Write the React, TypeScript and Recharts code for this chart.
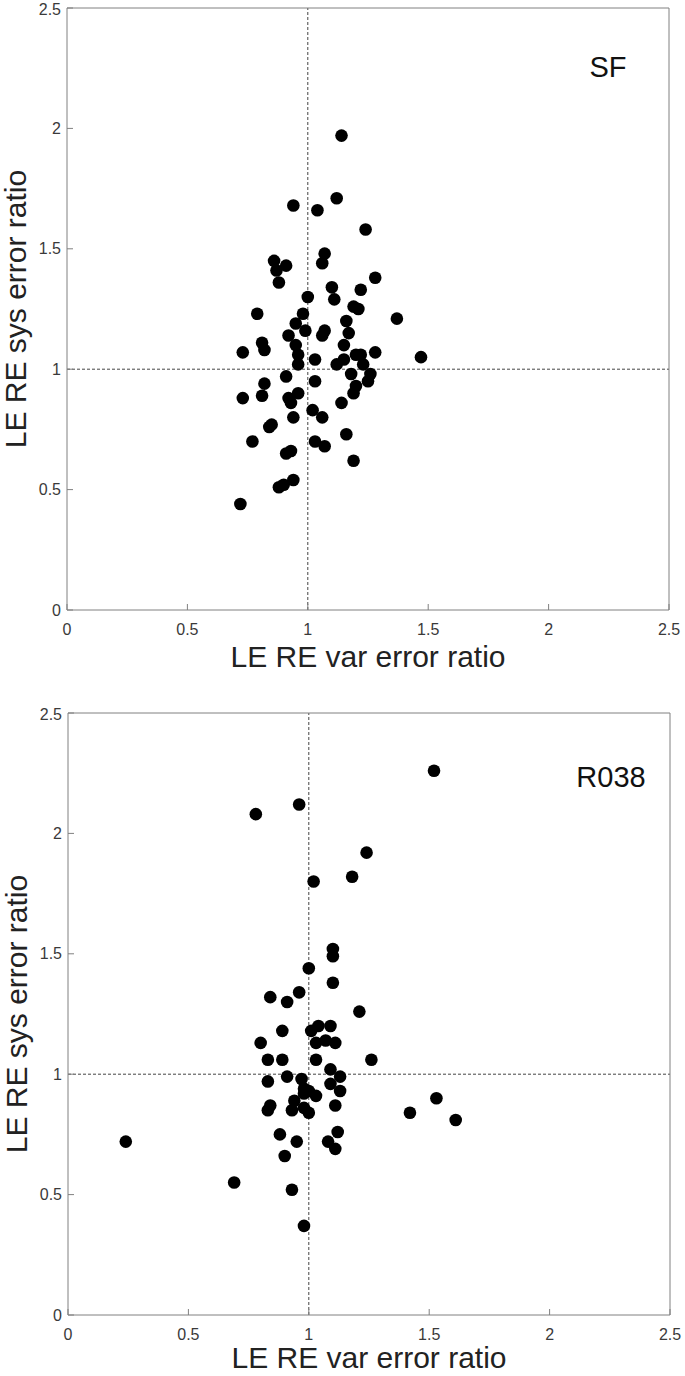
import { ScatterChart, Scatter, XAxis, YAxis, ReferenceLine } from 'recharts';

const TICKS = [0, 0.5, 1, 1.5, 2, 2.5];

// SF panel
const sfVar = [
  1.14, 1.12, 0.94, 1.04, 1.24, 1.07, 1.06, 0.86, 0.91, 0.87, 0.88, 1.28, 1.1, 1.22, 1.0, 1.11, 1.19, 1.21, 0.79,
  1.37, 0.98, 0.95, 1.16, 0.99, 1.07, 1.06, 0.92, 1.17, 0.81, 0.82, 0.73, 0.95, 1.15, 0.96, 1.03, 0.96, 1.12, 1.15,
  1.2, 1.22, 1.23, 1.28, 1.47, 0.91, 1.18, 1.26, 1.25, 1.03, 0.82, 1.2, 0.73, 0.81, 0.92, 0.93, 0.96, 1.19, 1.14,
  1.02, 1.06, 0.94, 0.84, 0.85, 0.77, 1.16, 1.03, 1.07, 0.91, 0.93, 1.19, 0.94, 0.88, 0.9, 0.72,
];
const sfSys = [
  1.97, 1.71, 1.68, 1.66, 1.58, 1.48, 1.44, 1.45, 1.43, 1.41, 1.36, 1.38, 1.34, 1.33, 1.3, 1.29, 1.26, 1.25, 1.23,
  1.21, 1.23, 1.19, 1.2, 1.16, 1.16, 1.14, 1.14, 1.15, 1.11, 1.08, 1.07, 1.1, 1.1, 1.06, 1.04, 1.02, 1.02, 1.04,
  1.06, 1.06, 1.02, 1.07, 1.05, 0.97, 0.98, 0.98, 0.95, 0.95, 0.94, 0.93, 0.88, 0.89, 0.88, 0.86, 0.9, 0.9, 0.86,
  0.83, 0.8, 0.8, 0.76, 0.77, 0.7, 0.73, 0.7, 0.68, 0.65, 0.66, 0.62, 0.54, 0.51, 0.52, 0.44,
];

// R038 panel
const r038Var = [
  1.52, 0.96, 0.78, 1.24, 1.18, 1.02, 1.1, 1.1, 1.0, 1.1, 0.96, 0.84, 0.91, 1.21, 0.89, 1.01, 1.04, 1.09, 0.8, 1.03,
  1.07, 1.11, 0.83, 0.89, 1.03, 1.26, 0.91, 1.09, 1.13, 0.83, 0.97, 1.09, 1.13, 0.98, 1.0, 1.03, 0.98, 0.94, 0.84,
  0.83, 0.93, 0.98, 1.0, 1.11, 1.53, 1.42, 1.61, 0.88, 0.95, 1.12, 1.08, 1.11, 0.9, 0.69, 0.93, 0.98, 0.24,
];
const r038Sys = [
  2.26, 2.12, 2.08, 1.92, 1.82, 1.8, 1.52, 1.49, 1.44, 1.38, 1.34, 1.32, 1.3, 1.26, 1.18, 1.18, 1.2, 1.2, 1.13, 1.13,
  1.14, 1.13, 1.06, 1.06, 1.06, 1.06, 0.99, 1.02, 0.99, 0.97, 0.98, 0.96, 0.93, 0.94, 0.93, 0.91, 0.92, 0.89, 0.87,
  0.85, 0.85, 0.86, 0.84, 0.87, 0.9, 0.84, 0.81, 0.75, 0.72, 0.76, 0.72, 0.69, 0.66, 0.55, 0.52, 0.37, 0.72,
];

const toPoints = (xs: number[], ys: number[]) => xs.map((x, i) => ({ x, y: ys[i] }));

const FONT = '"Liberation Sans", Arial, Helvetica, sans-serif';
const BOX = '#808080';
const tickStyle = { fontSize: 16, fill: '#3a3a3a', fontFamily: FONT };

const Dot = (props: any) => <circle cx={props.cx} cy={props.cy} r={6.3} fill="#000" />;

function Panel({ xs, ys, tag, tagX, tagTop, top, left, right, height, titleGap }: any) {
  const data = toPoints(xs, ys);
  const plotH = 602;
  const xAxisH = 62;
  const yAxisW = 60;
  return (
    <div style={{ position: 'absolute', left: 0, top, width: 685, height }}>
      <ScatterChart
        width={685}
        height={height}
        margin={{ top: 7, left: left - yAxisW, right: right - 1, bottom: height - 8 - plotH - xAxisH }}
      >
        <XAxis
          type="number"
          dataKey="x"
          domain={[0, 2.5]}
          ticks={TICKS}
          height={xAxisH}
          tickSize={-6}
          tickMargin={20}
          tick={tickStyle}
          stroke={BOX}
          allowDataOverflow
          label={{ value: 'LE RE var error ratio', position: 'insideTop', offset: titleGap, fontSize: 30, fill: '#222', fontFamily: FONT }}
        />
        <XAxis xAxisId="top" orientation="top" type="number" domain={[0, 2.5]} ticks={TICKS} height={1} tickSize={-6} tick={false} stroke={BOX} />
        <YAxis
          type="number"
          dataKey="y"
          domain={[0, 2.5]}
          ticks={TICKS}
          width={yAxisW}
          tickSize={-6}
          tickMargin={12}
          tick={tickStyle}
          stroke={BOX}
          allowDataOverflow
          label={{ value: 'LE RE sys error ratio', position: 'insideLeft', angle: -90, offset: 8.5, textAnchor: 'middle', fontSize: 30, fill: '#222', fontFamily: FONT }}
        />
        <YAxis yAxisId="right" orientation="right" type="number" domain={[0, 2.5]} ticks={TICKS} width={1} tickSize={-6} tick={false} stroke={BOX} />
        <ReferenceLine x={1} stroke="#444" strokeDasharray="3 2" />
        <ReferenceLine y={1} stroke="#444" strokeDasharray="3 2" />
        <Scatter data={data} fill="#000" shape={Dot} isAnimationActive={false} />
      </ScatterChart>
      <div
        style={{
          position: 'absolute',
          left: tagX,
          top: tagTop,
          transform: 'translateX(-50%)',
          fontFamily: FONT,
          fontSize: 29,
          color: '#111',
          lineHeight: '29px',
          whiteSpace: 'nowrap',
        }}
      >
        {tag}
      </div>
    </div>
  );
}

export default function App() {
  return (
    <div style={{ position: 'absolute', left: 0, top: 0, width: 685, height: 1376, background: '#fff' }}>
      <Panel xs={sfVar} ys={sfSys} tag="SF" tagX={608} tagTop={53} top={0} left={67} right={16} height={700} titleGap={36} />
      <Panel xs={r038Var} ys={r038Sys} tag="R038" tagX={611} tagTop={58} top={705} left={68} right={15} height={671} titleGap={32} />
    </div>
  );
}
